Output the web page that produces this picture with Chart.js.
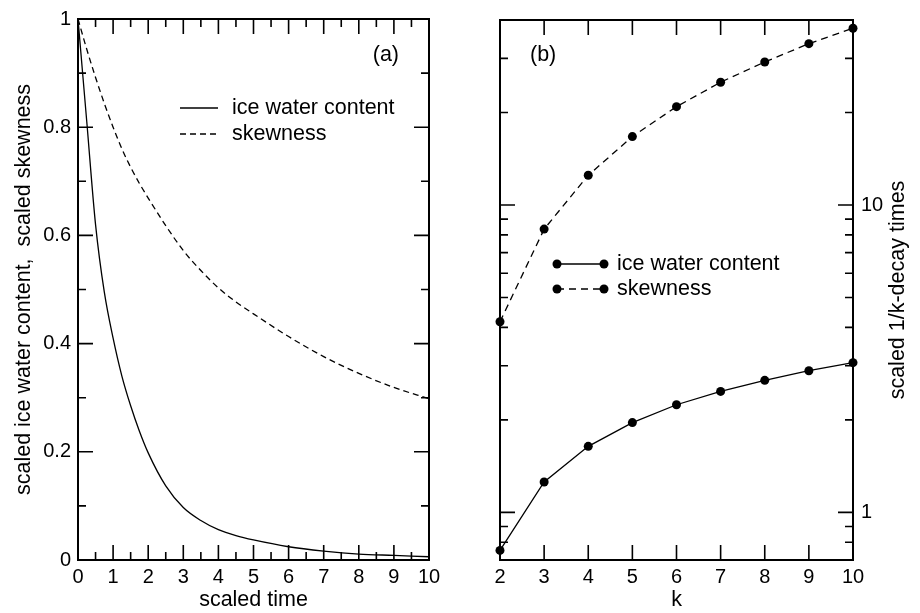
<!DOCTYPE html>
<html>
<head>
<meta charset="utf-8">
<script src="https://cdn.jsdelivr.net/npm/chart.js@4.4.1/dist/chart.umd.min.js"></script>
<style>
  body { margin: 0; background: #fff; }
  #wrap { position: relative; width: 920px; height: 613px; }
  canvas { position: absolute; top: 0; }
</style>
</head>
<body>
<div id="wrap">
  <canvas id="panelA" width="460" height="613" style="left:0"></canvas>
  <canvas id="panelB" width="460" height="613" style="left:460px"></canvas>
</div>
<script>
// (a) scaled time series
const timeA = [0, 0.25, 0.5, 0.75, 1, 1.25, 1.5, 1.75, 2, 2.5, 3, 3.5, 4, 4.5, 5, 6, 7, 8, 9, 10];
const iceA  = [1, 0.81, 0.62, 0.495, 0.41, 0.34, 0.285, 0.238, 0.198, 0.137, 0.097, 0.073, 0.056, 0.045, 0.037, 0.0245, 0.0165, 0.011, 0.0085, 0.006];
const skewA = [1, 0.944, 0.892, 0.844, 0.8, 0.76, 0.726, 0.696, 0.669, 0.618, 0.572, 0.535, 0.503, 0.477, 0.455, 0.413, 0.376, 0.345, 0.319, 0.298];

// (b) decay times vs k
const kB    = [2, 3, 4, 5, 6, 7, 8, 9, 10];
const iceB  = [0.752, 1.256, 1.64, 1.96, 2.24, 2.475, 2.69, 2.89, 3.07];
const skewB = [4.17, 8.35, 12.5, 16.7, 20.9, 25.1, 29.2, 33.5, 37.6];

// ticks
const timeTicks  = [0, 1, 2, 3, 4, 5, 6, 7, 8, 9, 10];
const timeMinor  = [0.5, 1.5, 2.5, 3.5, 4.5, 5.5, 6.5, 7.5, 8.5, 9.5];
const fracTicks  = [0, 0.2, 0.4, 0.6, 0.8, 1];
const fracLabels = ['0', '0.2', '0.4', '0.6', '0.8', '1'];
const fracMinor  = [0.1, 0.3, 0.5, 0.7, 0.9];
const kTicks     = [2, 3, 4, 5, 6, 7, 8, 9, 10];
const logTicks   = [1, 10];
const logLabels  = ['1', '10'];
const logMinor   = [0.8, 0.9, 2, 3, 4, 5, 6, 7, 8, 9, 20, 30];

const FONT = '"Liberation Sans", Arial, Helvetica, sans-serif';
const tickFont = { family: FONT, size: 20 };
const titleFont = { family: FONT, size: 21.5 };
const noGrid = { display: false, drawTicks: false };

function xy(xs, ys) { return xs.map((x, i) => ({ x: x, y: ys[i] })); }

// frame, inward ticks, legend and panel tag
const decor = {
  id: 'decor',
  afterDraw(chart, args, o) {
    const { ctx, chartArea: a } = chart;
    const sx = chart.scales.x, sy = chart.scales.y;
    ctx.save();
    ctx.strokeStyle = '#000';
    ctx.fillStyle = '#000';
    ctx.lineWidth = 1.6;
    ctx.beginPath();
    const xt = (list, len) => list.forEach(v => {
      const p = sx.getPixelForValue(v);
      ctx.moveTo(p, a.bottom); ctx.lineTo(p, a.bottom - len);
      ctx.moveTo(p, a.top); ctx.lineTo(p, a.top + len);
    });
    const yt = (list, len) => list.forEach(v => {
      const p = sy.getPixelForValue(v);
      ctx.moveTo(a.left, p); ctx.lineTo(a.left + len, p);
      ctx.moveTo(a.right, p); ctx.lineTo(a.right - len, p);
    });
    xt(o.xMajor, 15); xt(o.xMinor, 8);
    yt(o.yMajor, 15); yt(o.yMinor, 8);
    ctx.stroke();
    ctx.lineWidth = 2;
    ctx.strokeRect(a.left, a.top, a.width, a.height);

    // legend
    const L = o.legend;
    ctx.font = '21.5px ' + FONT;
    ctx.textBaseline = 'middle';
    ctx.textAlign = 'left';
    chart.data.datasets.forEach((ds, i) => {
      const yy = L.y[i];
      ctx.lineWidth = 1.3;
      ctx.setLineDash(ds.borderDash || []);
      ctx.beginPath(); ctx.moveTo(L.x0, yy); ctx.lineTo(L.x1, yy); ctx.stroke();
      ctx.setLineDash([]);
      if (L.markers) {
        [L.x0, L.x1].forEach(mx => { ctx.beginPath(); ctx.arc(mx, yy, 4.5, 0, Math.PI * 2); ctx.fill(); });
      }
      ctx.fillText(ds.label, L.tx, yy);
    });

    // panel tag
    ctx.textAlign = o.tag.align;
    ctx.fillText(o.tag.text, o.tag.x, o.tag.y);

    // rotated right-side title
    if (o.sideTitle) {
      ctx.translate(o.sideTitle.x, (a.top + a.bottom) / 2);
      ctx.rotate(-Math.PI / 2);
      ctx.textAlign = 'center';
      ctx.fillText(o.sideTitle.text, 0, 0);
    }
    ctx.restore();
  }
};

Chart.defaults.color = '#000';
Chart.defaults.font.family = FONT;

new Chart(document.getElementById('panelA'), {
  type: 'line',
  data: {
    datasets: [
      { label: 'ice water content', data: xy(timeA, iceA), borderColor: '#000', borderWidth: 1.3,
        pointRadius: 0, cubicInterpolationMode: 'monotone', fill: false },
      { label: 'skewness', data: xy(timeA, skewA), borderColor: '#000', borderWidth: 1.3, borderDash: [6, 4],
        pointRadius: 0, cubicInterpolationMode: 'monotone', fill: false }
    ]
  },
  options: {
    responsive: false,
    animation: false,
    events: [],
    layout: { padding: { top: 15, right: 31, left: 0, bottom: 0 } },
    plugins: {
      legend: { display: false },
      tooltip: { enabled: false },
      decor: {
        xMajor: timeTicks, xMinor: timeMinor, yMajor: fracTicks, yMinor: fracMinor,
        legend: { x0: 180, x1: 218, tx: 232, y: [108, 134], markers: false },
        tag: { text: '(a)', x: 399, y: 55, align: 'right' }
      }
    },
    scales: {
      x: {
        type: 'linear', min: 0, max: 10,
        afterBuildTicks: s => { s.ticks = timeTicks.map(v => ({ value: v })); },
        afterFit: s => { s.height = 53; },
        ticks: { font: tickFont, color: '#000', padding: 5, maxRotation: 0, autoSkip: false },
        grid: noGrid, border: { display: false },
        title: { display: true, text: 'scaled time', font: titleFont, color: '#000', padding: { top: 0, bottom: 0 } }
      },
      y: {
        type: 'linear', min: 0, max: 1,
        afterBuildTicks: s => { s.ticks = fracTicks.map(v => ({ value: v })); },
        afterFit: s => { s.width = 78; },
        ticks: { font: tickFont, color: '#000', padding: 7, callback: v => fracLabels[fracTicks.indexOf(v)] },
        grid: noGrid, border: { display: false },
        title: { display: true, text: 'scaled ice water content,  scaled skewness', font: titleFont, color: '#000', padding: { top: 11, bottom: 0 } }
      }
    }
  },
  plugins: [decor]
});

new Chart(document.getElementById('panelB'), {
  type: 'line',
  data: {
    datasets: [
      { label: 'ice water content', data: xy(kB, iceB), borderColor: '#000', borderWidth: 1.3,
        pointRadius: 4.5, pointBackgroundColor: '#000', pointBorderWidth: 0, tension: 0, fill: false, clip: false },
      { label: 'skewness', data: xy(kB, skewB), borderColor: '#000', borderWidth: 1.3, borderDash: [7, 5],
        pointRadius: 4.5, pointBackgroundColor: '#000', pointBorderWidth: 0, tension: 0, fill: false, clip: false }
    ]
  },
  options: {
    responsive: false,
    animation: false,
    events: [],
    layout: { padding: { top: 15, right: 0, left: 40, bottom: 0 } },
    plugins: {
      legend: { display: false },
      tooltip: { enabled: false },
      decor: {
        xMajor: kTicks, xMinor: [], yMajor: logTicks, yMinor: logMinor,
        legend: { x0: 97, x1: 144, tx: 157, y: [264, 289], markers: true },
        tag: { text: '(b)', x: 70, y: 55, align: 'left' },
        sideTitle: { text: 'scaled 1/k-decay times', x: 438 }
      }
    },
    scales: {
      x: {
        type: 'linear', min: 2, max: 10,
        afterBuildTicks: s => { s.ticks = kTicks.map(v => ({ value: v })); },
        afterFit: s => { s.height = 53; },
        ticks: { font: tickFont, color: '#000', padding: 5, maxRotation: 0, autoSkip: false },
        grid: noGrid, border: { display: false },
        title: { display: true, text: 'k', font: titleFont, color: '#000', padding: { top: 0, bottom: 0 } }
      },
      y: {
        type: 'logarithmic', position: 'right', min: 0.7, max: 40,
        afterBuildTicks: s => { s.ticks = logTicks.map(v => ({ value: v })); },
        afterFit: s => { s.width = 67; },
        ticks: { font: tickFont, color: '#000', padding: 8, callback: v => logLabels[logTicks.indexOf(v)] },
        grid: noGrid, border: { display: false }
      }
    }
  },
  plugins: [decor]
});
</script>
</body>
</html>
